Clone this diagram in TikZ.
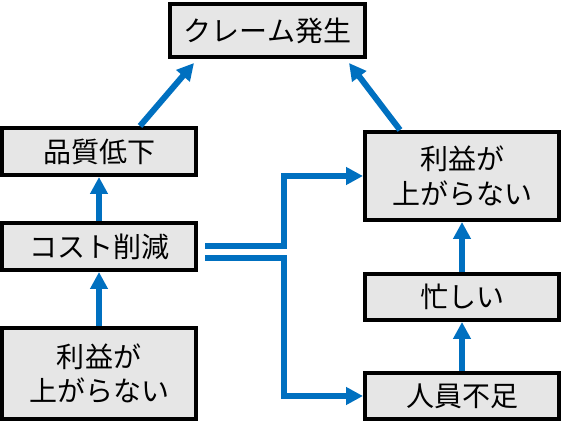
\documentclass[tikz,border=0pt]{standalone}
\usepackage{fontspec}
\setmainfont{Noto Sans CJK JP}
\usetikzlibrary{arrows.meta,calc}
\definecolor{conblue}{HTML}{0070C0}
\definecolor{boxgray}{HTML}{E6E6E6}
\begin{document}
\begin{tikzpicture}[x=1pt,y=1pt,
  box/.style={draw=black, line width=4pt, fill=boxgray, inner sep=0pt,
    minimum width=194pt, align=center, font=\fontsize{28}{34.5}\selectfont},
  arr/.style={draw=conblue, line width=6pt, -{Triangle[length=17pt,width=17pt]}},
  con/.style={draw=conblue, line width=6pt}]
\useasboundingbox (0,0) rectangle (562,430);
\node[box, minimum width=195pt, minimum height=53pt] (top) at (267.5,399.5) {クレーム発生};
\node[box, minimum height=47pt] (pq) at (99,278.5) {品質低下};
\node[box, minimum height=47pt] (cost) at (99,183.5) {コスト削減};
\node[box, minimum height=91pt] (lprofit) at (99,56.5) {利益が\\上がらない};
\node[box, minimum height=88pt] (rprofit) at (462,254) {利益が\\上がらない};
\node[box, minimum height=46pt] (busy) at (462,133) {忙しい};
\node[box, minimum height=46pt] (staff) at (462,34) {人員不足};
% vertical arrows
\draw[arr] (lprofit.north) -- (cost.south);
\draw[arr] (cost.north) -- (pq.south);
\draw[arr] (staff.north) -- (busy.south);
\draw[arr] (busy.north) -- (rprofit.south);
% diagonal arrows
\draw[arr] ([xshift=41pt]pq.north) -- ([xshift=-73.5pt,yshift=-4pt]top.south);
\draw[arr] ([xshift=-62pt]rprofit.north) -- ([xshift=81.5pt,yshift=-4pt]top.south);
% double branch
\draw[arr] ([xshift=7pt]cost.east) -- ++(79,0) |- (rprofit.west);
\draw[arr] ([xshift=7pt,yshift=-12pt]cost.east) -- ++(79,0) |- (staff.west);
\end{tikzpicture}
\end{document}
